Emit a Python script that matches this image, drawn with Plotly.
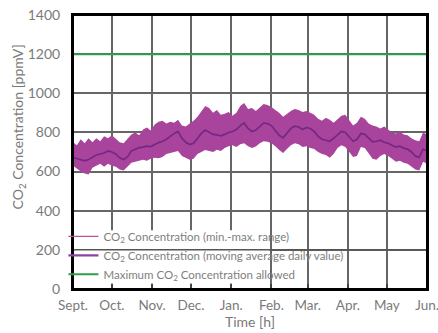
import pandas as pd
import plotly.graph_objects as go

# Day offsets from 1 Sept (every 3 days)
day_offsets = list(range(0, 274, 3))

co2_max = [750, 735, 765, 745, 770, 750, 770, 755, 780, 770, 785, 765, 750, 745, 770, 790,
           800, 785, 815, 825, 810, 840, 855, 860, 845, 855, 850, 865, 835, 830, 845, 860,
           880, 910, 935, 925, 900, 915, 890, 895, 905, 885, 900, 935, 950, 920, 925, 910,
           930, 945, 940, 930, 915, 900, 880, 895, 910, 920, 915, 905, 910, 900, 890, 870,
           860, 875, 865, 850, 870, 885, 890, 860, 835, 850, 880, 870, 845, 835, 830, 820,
           830, 815, 800, 795, 805, 790, 785, 770, 760, 755, 800, 790]
co2_mean = [672, 665, 660, 655, 662, 675, 685, 690, 695, 705, 700, 690, 670, 662, 675, 705,
            715, 722, 725, 730, 728, 740, 748, 755, 765, 780, 795, 805, 770, 750, 738, 745,
            770, 795, 812, 800, 790, 788, 782, 790, 800, 805, 815, 835, 848, 820, 805, 812,
            830, 848, 845, 835, 810, 785, 772, 795, 820, 832, 828, 815, 825, 820, 805, 780,
            765, 760, 755, 770, 790, 805, 800, 775, 755, 765, 795, 790, 770, 752, 755, 760,
            750, 745, 735, 725, 730, 720, 715, 700, 680, 672, 715, 705]
co2_min = [630, 615, 600, 590, 585, 620, 630, 640, 625, 640, 630, 625, 610, 605, 625, 645,
           650, 655, 660, 655, 665, 670, 668, 675, 690, 695, 700, 705, 680, 670, 660, 665,
           690, 700, 710, 705, 700, 712, 705, 720, 730, 735, 725, 740, 745, 730, 720, 728,
           745, 755, 752, 745, 730, 710, 695, 715, 735, 745, 740, 725, 730, 720, 715, 700,
           690, 685, 670, 690, 720, 735, 725, 700, 675, 680, 725, 720, 690, 665, 660, 680,
           690, 680, 665, 650, 655, 645, 640, 625, 610, 605, 650, 640]
co2_limit = 1200

month_ticks = ["2013-09-01", "2013-10-01", "2013-11-01", "2013-12-01", "2014-01-01",
               "2014-02-01", "2014-03-01", "2014-04-01", "2014-05-01", "2014-06-01"]
month_labels = ["Sept.", "Oct.", "Nov.", "Dec.", "Jan.", "Feb.", "Mar.", "Apr.", "May", "Jun."]
y_ticks = [0, 200, 400, 600, 800, 1000, 1200, 1400]

start = pd.Timestamp(month_ticks[0])
x = [start + pd.Timedelta(days=d) for d in day_offsets]

FONT = "Lato"
GRAY = "#7a7a7a"
BAND = "#a8449c"
MEAN = "#762783"
GREEN = "#2e9e48"

fig = go.Figure()
fig.add_trace(go.Scatter(x=x, y=co2_min, mode="lines", line=dict(width=0, color=BAND),
                         showlegend=False, hoverinfo="skip"))
fig.add_trace(go.Scatter(x=x, y=co2_max, mode="lines", line=dict(width=0, color=BAND),
                         fill="tonexty", fillcolor=BAND, showlegend=False, hoverinfo="skip"))
fig.add_trace(go.Scatter(x=x, y=co2_mean, mode="lines", line=dict(width=1.7, color=MEAN),
                         showlegend=False))
# legend entries
fig.add_trace(go.Scatter(x=[None], y=[None], mode="lines", line=dict(width=1.2, color="#c0509e"),
                         name="CO<sub>2</sub> Concentration (min.-max. range)"))
fig.add_trace(go.Scatter(x=[None], y=[None], mode="lines", line=dict(width=2.2, color="#8e44a0"),
                         name="CO<sub>2</sub> Concentration (moving average daily value)"))
fig.add_trace(go.Scatter(x=[month_ticks[0], month_ticks[-1]], y=[co2_limit, co2_limit], mode="lines",
                         line=dict(width=2, color=GREEN),
                         name="Maximum CO<sub>2</sub> Concentration allowed"))

# white box behind legend and the 200 gridline across it
fig.add_shape(type="rect", xref="paper", yref="y", x0=0.004, x1=0.555, y0=28, y1=300,
              fillcolor="white", line=dict(width=0), layer="above")
fig.add_shape(type="line", xref="paper", yref="y", x0=0.003, x1=0.997, y0=200, y1=200,
              line=dict(color="#555555", width=1.5), layer="above")
# black frame around the plot area
fig.add_shape(type="rect", xref="paper", yref="paper", x0=0, x1=1, y0=0, y1=1,
              line=dict(color="black", width=2), fillcolor="rgba(0,0,0,0)", layer="above")

fig.add_annotation(text="CO<sub>2</sub> Concentration [ppmV]", xref="paper", yref="paper",
                   x=-0.155, y=0.59, xanchor="center", yanchor="middle", textangle=-90,
                   showarrow=False, font=dict(family=FONT, size=14, color=GRAY))

fig.update_layout(
    width=438, height=333,
    margin=dict(l=73, r=11, t=15, b=44),
    paper_bgcolor="white", plot_bgcolor="white",
    font=dict(family=FONT, size=13, color=GRAY),
    legend=dict(x=-0.027, y=0.245, xanchor="left", yanchor="top", bgcolor="rgba(0,0,0,0)",
                font=dict(family=FONT, size=11.5, color="#808080"), tracegroupgap=0,
                itemwidth=30, traceorder="normal"),
    xaxis=dict(range=[month_ticks[0], month_ticks[-1]], tickvals=month_ticks, ticktext=month_labels,
               automargin=False, ticklabeloverflow="allow",
               showgrid=True, gridcolor="#666666", gridwidth=1.5,
               showline=True, linecolor="black", linewidth=2, mirror=True,
               ticks="inside", ticklen=5, tickcolor="#444444", tickwidth=1.5,
               title=dict(text="Time [h]", font=dict(size=14, color=GRAY), standoff=4),
               tickfont=dict(size=13.5, color=GRAY), ticklabelstandoff=3),
    yaxis=dict(range=[0, 1400], tickvals=y_ticks, automargin=False, ticklabeloverflow="allow",
               showgrid=True, gridcolor="#666666", gridwidth=1.5,
               showline=True, linecolor="black", linewidth=2, mirror=True, zeroline=False,
               ticks="", tickfont=dict(size=14, color=GRAY), ticklabelstandoff=8),
)

fig.write_html("out.html", config={"displayModeBar": False},
               post_script="document.body.style.margin='0px';")
